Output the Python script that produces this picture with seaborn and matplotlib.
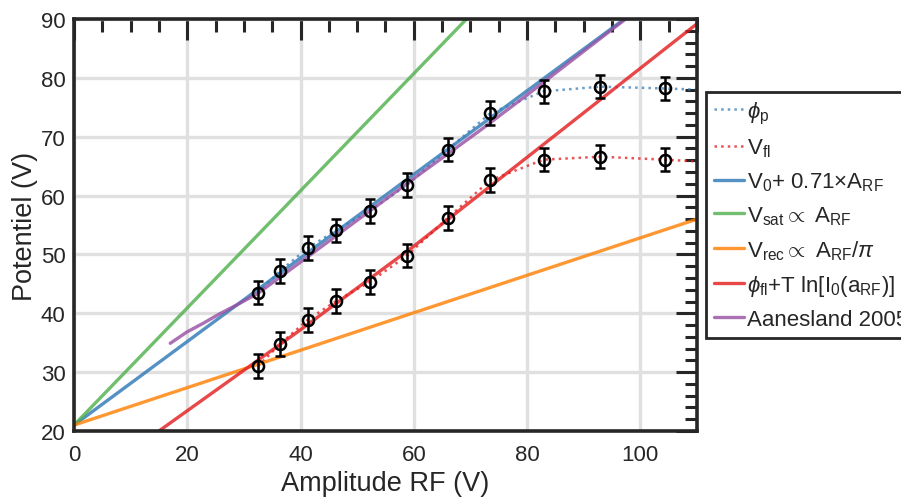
import matplotlib
matplotlib.use('Agg')
import matplotlib.pyplot as plt
from matplotlib.ticker import MultipleLocator
import seaborn as sns

# -----------------------------
# DATA
# -----------------------------

amp = [32.5, 36.4, 41.3, 46.3, 52.2, 58.8, 66.0, 73.5, 82.9, 92.9, 104.3]
phi_p = [43.5, 47.2, 51.1, 54.1, 57.4, 61.8, 67.8, 74.0, 77.7, 78.5, 78.2]
v_fl = [31.0, 34.8, 38.9, 42.1, 45.3, 49.8, 56.2, 62.6, 66.1, 66.6, 66.1]
err = [2.0] * len(amp)

# dotted curves carry on to the right edge
curve_end_x = 110
phi_p_end = 78.0
v_fl_end = 65.8

# straight models, read at both ends
fit_x = [0, 110]
v0_fit = [21.0, 99.1]
vsat_fit = [21.0, 130.5]
vrec_fit = [21.0, 56.0]

# curved models
red_x = [15, 40, 60, 80, 110]
red_y = [20.0, 37.2, 51.4, 66.5, 89.2]

aan_x = [17.0, 19.9, 22.8, 25.7, 28.7, 32.5, 40, 50, 60, 71.6, 80, 97.4]
aan_y = [34.9, 36.8, 38.3, 39.9, 41.4, 43.4, 48.7, 55.8, 62.9, 71.0, 77.1, 90.0]

# -----------------------------
# STYLE
# -----------------------------

sns.set_theme(style='white')
plt.rcParams['font.family'] = ['Liberation Sans', 'DejaVu Sans']
plt.rcParams['mathtext.fontset'] = 'custom'
plt.rcParams['mathtext.rm'] = 'Liberation Sans'
plt.rcParams['mathtext.it'] = 'Liberation Sans:italic'

pal = sns.color_palette('Set1')
red, blue, green, purple, orange = pal[0], pal[1], pal[2], pal[3], pal[4]
dark = '#262626'

fig = plt.figure(figsize=(9.01, 5.02), dpi=100)
ax = fig.add_axes([0.0821, 0.1394, 0.6915, 0.8208])

# -----------------------------
# PLOT
# -----------------------------

ax.plot(amp + [curve_end_x], phi_p + [phi_p_end], ls=':', lw=1.8,
        color=blue, alpha=0.75, label=r'$\phi_\mathrm{p}$')
ax.plot(amp + [curve_end_x], v_fl + [v_fl_end], ls=':', lw=1.8,
        color=red, alpha=0.75, label=r'V$_\mathrm{fl}$')

sns.lineplot(x=fit_x, y=v0_fit, color=blue, lw=2.4, alpha=0.85, ax=ax,
             label=r'V$_\mathrm{0}$+ 0.71$\times$A$_\mathrm{RF}$')
sns.lineplot(x=fit_x, y=vsat_fit, color=green, lw=2.4, alpha=0.8, ax=ax,
             label=r'V$_\mathrm{sat}$$\propto$ A$_\mathrm{RF}$')
sns.lineplot(x=fit_x, y=vrec_fit, color=orange, lw=2.4, alpha=0.8, ax=ax,
             label=r'V$_\mathrm{rec}$$\propto$ A$_\mathrm{RF}$/$\pi$')
sns.lineplot(x=red_x, y=red_y, color=red, lw=2.4, alpha=0.8, ax=ax,
             label=r'$\phi_\mathrm{fl}$+T ln[I$_\mathrm{0}$(a$_\mathrm{RF}$)]')
sns.lineplot(x=aan_x, y=aan_y, color=purple, lw=2.4, alpha=0.8, ax=ax,
             label='Aanesland 2005')

for series in (phi_p, v_fl):
    ax.errorbar(amp, series, yerr=err, fmt='o', ms=8, mfc='none', mec='black',
                mew=1.8, ecolor='black', elinewidth=1.8, capsize=3.5,
                capthick=1.8, zorder=5)

# -----------------------------
# AXES
# -----------------------------

ax.set_xlim(0, 110)
ax.set_ylim(20, 90)
ax.xaxis.set_major_locator(MultipleLocator(20))
ax.xaxis.set_minor_locator(MultipleLocator(5))
ax.yaxis.set_major_locator(MultipleLocator(10))
ax.yaxis.set_minor_locator(MultipleLocator(2))

ax.grid(True, which='major', color='#e0e0e0', lw=2.4)
ax.set_axisbelow(True)

for s in ax.spines.values():
    s.set_color(dark)
    s.set_linewidth(2.6)

ax.tick_params(which='both', direction='in', top=True, right=True,
               colors=dark, labelsize=16, width=2.2)
ax.tick_params(which='major', length=15)
ax.tick_params(which='minor', length=9)
ax.tick_params(axis='x', which='both', pad=9)
ax.tick_params(axis='y', which='both', pad=6)

ax.set_xlabel('Amplitude RF (V)', fontsize=19.5, color=dark, labelpad=4)
ax.set_ylabel('Potentiel (V)', fontsize=19.5, color=dark, labelpad=2)

leg = ax.legend(loc='center left', bbox_to_anchor=(1.015, 0.525),
                fontsize=16, frameon=True, fancybox=False, framealpha=1,
                edgecolor=dark, handlelength=1.35, handletextpad=0.15,
                labelspacing=0.5, borderpad=0.35, borderaxespad=0)
leg.get_frame().set_linewidth(2.0)

fig.savefig('out.png', dpi=100)
